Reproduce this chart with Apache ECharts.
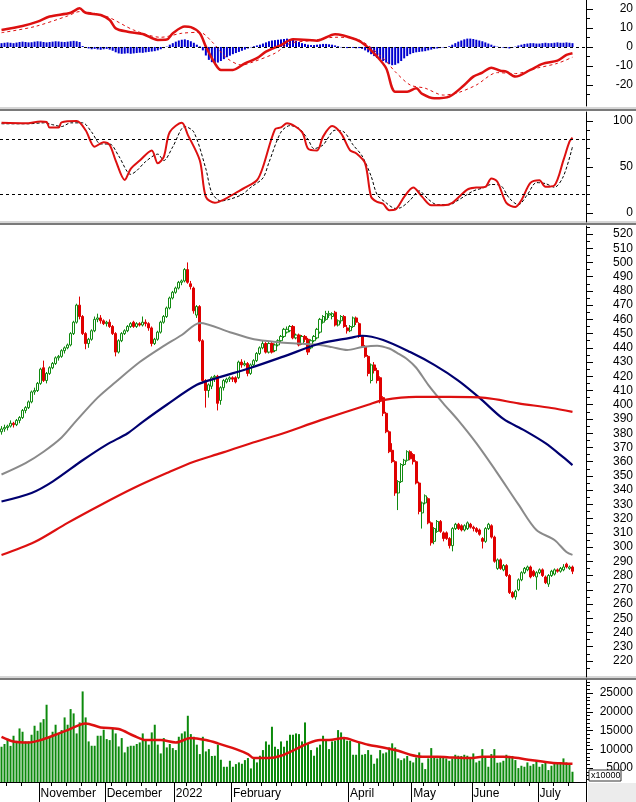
<!DOCTYPE html>
<html><head><meta charset="utf-8">
<script src="https://cdn.jsdelivr.net/npm/echarts@6/dist/echarts.min.js"></script>
<style>html,body{margin:0;padding:0;background:#fff}#c{width:636px;height:802px}</style>
</head><body><div id="c"></div>
<script>
// ---------- DATA ----------
const barCount = 195; // category slots (last few empty)
const monthStarts = [13, 35, 58, 77, 116, 137, 157, 179];
const monthNames = ['November', 'December', '2022', 'February', 'April', 'May', 'June', 'July'];
const weekTicks = [2,7,17,22,27,32,37,42,47,52,62,67,72,82,87,92,97,102,107,112,121,126,131,141,146,151,161,166,171,176,184,189];

// [open, close, low, high]
const candles = [
[381,383,379,385],[383,384,381,386],[384,385,382,386],[385,387,384,389],[387,386,384,388],
[386,389,385,390],[389,391,387,392],[391,396,390,397],[396,398,394,399],[398,402,397,403],
[402,409,401,410],[409,410,407,412],[410,415,409,416],[415,425,414,426],[426,417,416,431],
[417,422,415,423],[422,426,421,427],[426,429,425,430],[429,433,428,434],[433,434,431,435],
[434,438,433,439],[438,440,436,441],[440,442,439,443],[442,450,441,451],[450,458,449,459],
[458,470,457,471],[470,462,460,476],[462,450,449,463],[450,443,439,451],[443,446,440,447],
[446,452,445,453],[452,460,451,462],[460,461,458,464],[461,459,457,463],[459,457,456,460],
[457,458,455,459],[458,455,454,460],[455,450,449,456],[450,437,434,451],[437,445,436,446],
[445,450,444,451],[450,452,449,453],[452,455,451,456],[455,457,454,458],[458,455,454,459],
[455,457,454,458],[457,456,455,458],[456,458,455,462],[458,457,455,460],[457,454,452,458],
[454,443,441,455],[443,446,442,447],[446,451,445,452],[451,458,450,459],[458,462,457,463],
[462,468,461,469],[468,475,467,476],[475,479,474,480],[479,482,478,483],[482,486,481,487],
[486,487,484,488],[487,495,486,496],[495,486,485,500],
[485,483,481,487],[482,466,464,483],[463,469,461,470],[469,445,444,470],[445,417,415,446],
[417,410,398,418],[410,414,405,415],[413,419,411,420],[419,420,416,421],[420,401,396,421],
[403,412,400,413],[412,417,410,418],[416,418,415,419],[418,419,416,420],[419,418,416,420],
[419,416,415,420],[419,430,418,431],[430,428,426,432],[428,429,427,431],[429,422,420,430],
[422,428,421,429],[428,431,426,432],[431,436,430,437],[436,440,435,441],[440,443,439,445],
[443,437,436,444],[437,443,436,444],[443,437,436,444],[438,442,437,443],[442,445,441,446],
[445,448,444,449],[448,453,447,454],[451,453,450,455],[452,455,451,456],[455,447,446,456],
[447,449,446,450],[449,442,441,450],[443,448,442,449],[448,446,444,449],[446,437,435,447],
[440,445,439,446],[445,448,444,449],[447,453,446,454],[451,460,450,461],[458,462,457,463],
[460,464,459,466],[463,464,461,466],[462,464,460,465],[465,456,455,466],[456,459,455,460],
[459,462,457,463],[462,455,454,463],[454,452,450,456],[452,455,451,456],[455,461,454,462],
[461,458,456,462],[457,448,447,458],[448,441,440,449],[441,434,433,442],[434,422,420,435],
[417,428,415,429],[428,424,422,430],[424,417,415,426],[419,403,401,420],[405,394,392,406],
[394,381,380,395],[381,367,366,382],[368,360,359,373],[360,338,336,361],[338,346,326,347],
[346,358,345,359],[358,361,357,362],[361,367,360,368],[367,362,361,368],[365,360,358,366],
[360,345,344,361],[345,325,323,346],[324,331,313,332],[331,336,330,337],[334,317,316,335],
[317,303,301,318],[304,313,302,314],[311,318,310,319],[318,311,310,319],[310,306,304,311],
[310,306,305,311],[306,301,299,307],[301,313,297,314],[313,316,312,317],[316,313,312,317],
[315,312,311,316],[312,315,311,316],[313,317,312,318],[316,314,313,317],[314,313,311,315],
[313,311,310,314],[312,309,308,313],[306,304,299,307],[304,313,303,314],[313,316,312,317],
[315,307,306,316],[307,290,289,308],[285,291,284,292],[291,285,284,292],[284,287,283,288],
[287,280,279,288],[280,268,267,281],[268,265,264,269],[265,269,263,270],[270,277,269,278],
[277,282,276,283],[282,285,281,286],[284,286,283,287],[286,279,278,287],[283,280,279,284],
[279,282,270,283],[282,284,281,285],[284,280,279,285],[279,275,274,280],[274,280,272,281],
[280,283,279,284],[281,284,280,285],[284,283,282,285],[283,285,282,286],[284,286,283,288],
[288,286,285,289],[285,286,284,287],[286,283,281,287]
];

// moving averages: [barIndex, value]
const ma25 = [[0,351],[8,359],[14,367],[20,377],[25,389],[32,405],[38,416],[46,430],[53,440],[60,449],[66,457.5],[76,451],[84,446],[92,444],[99,443],[106,442],[110,440.5],[115,438.5],[120,440.5],[125,441.5],[129,439.5],[132,436],[135,432],[138,426],[142,414],[147,401],[152,389],[158,373],[165,352],[172,330],[178,312],[184,305],[188,296.5],[190,294.5]];
const ma75 = [[0,332],[10,338],[17,346],[27,361],[35,372],[42,380],[47,388],[55,400],[65,414],[72,419],[83,426],[94,434],[106,443],[116,447],[120,448.5],[127,445.5],[136,437],[144,428],[152,417],[159,405],[167,390],[174,382],[181,373],[187,363],[190,357.6]];
const ma200 = [[0,294.4],[11,303.5],[22,317],[33,329.6],[44,341.5],[55,352],[64,360],[73,366],[83,373],[92,378.7],[106,389],[122,400],[127,403.3],[138,405.5],[149,405.5],[161,404.8],[172,401],[183,397.7],[190,395]];

const volume = [
10670,11400,12800,10900,13600,12270,15550,14670,12090,12090,
13870,16270,14930,17150,18040,21870,13150,14670,16540,14220,
15110,18490,16540,20710,19560,14220,17150,25420,18490,12090,
10930,10930,13600,13600,15200,12710,12440,15640,14220,10750,
12980,9160,10670,10930,10930,11400,11820,14220,12440,11220,
14490,16540,11220,8890,12980,10490,11400,10310,9780,13330,
14220,14760,18930,14040,13330,11220,8710,13330,9420,10040,
8210,8270,11220,7200,5330,5330,6930,5330,6040,6490,
6130,7110,7650,4890,7830,6490,8270,9780,12090,11220,
16000,10670,10040,12090,10670,12270,13870,13870,14220,14040,
12090,17150,11580,9780,8270,10490,11220,
13600,12270,10040,12090,12270,15110,14490,12980,12270,12270,
8530,8530,11820,8530,8710,9780,8530,6130,7560,9780,
8890,9160,10490,11580,10490,7560,7110,7560,8210,6930,
6490,7830,9160,6400,4710,7560,10310,7830,7560,
8210,7830,7560,6930,7560,8530,8270,8210,8530,8270,
7650,8890,6490,6930,10040,7830,5330,8710,10040,6400,
6490,6930,8530,8210,8210,7110,4980,5600,5330,6490,
5600,6040,7110,5330,6040,6490,4450,5600,6400,6400,
6400,7560,6490,6040,4000
];
const volMA = [[0,13330],[4,12090],[9,11820],[13,12440],[18,13870],[22,15110],[28,16900],[33,15820],[39,15380],[44,13600],[48,12440],[53,12440],[58,11820],[63,12980],[68,12440],[72,11580],[78,10040],[82,8710],[84,7650],[89,7650],[93,8270],[98,10040],[102,11580],[106,12440],[109,12440],[114,12980],[118,12090],[122,11220],[127,10490],[132,9610],[136,8530],[140,8000],[145,8000],[149,7830],[156,7650],[160,8000],[167,8000],[172,7650],[176,7110],[183,6400],[187,6220],[190,6130]];

const macdLine = [[0,8.9],[7,11],[12,13.3],[16,16],[23,18],[26,20.3],[28,18],[33,16.8],[36,14.2],[38,9.8],[42,8],[47,6.8],[52,3.7],[55,3.9],[57,7.2],[61,10.7],[63,10.4],[66,7.2],[68,0.2],[71,-8.6],[73,-12.1],[77,-12.1],[81,-8.6],[85,-5.9],[88,-2.5],[93,1],[97,4],[102,3.7],[105,3.3],[111,6.7],[118,3.9],[121,1],[125,-5.1],[128,-11.2],[131,-23.5],[135,-23.5],[138,-21.7],[140,-24.7],[144,-27],[149,-26.1],[154,-20],[157,-15.6],[160,-13.5],[163,-10.9],[166,-12.5],[168,-13],[171,-15.6],[176,-12.1],[180,-8.9],[185,-7.2],[188,-4.2],[190,-3.3]];
const macdSignal = [[0,7.5],[11,10.7],[22,16.3],[26,18.6],[35,16],[44,8.9],[53,5.1],[60,7.2],[66,7.7],[70,2.8],[75,-5.9],[80,-9.5],[84,-7.7],[91,-3.3],[96,1.9],[103,3.3],[111,5.1],[119,3.7],[127,-5.9],[131,-13],[136,-20],[141,-21.7],[147,-25.3],[152,-24],[158,-20],[165,-13.5],[171,-14],[178,-11.2],[185,-8.6],[190,-5.4]];
const macdHist = [
2.0,2.2,2.4,2.2,2.0,2.3,2.6,2.8,2.6,2.4,2.5,2.8,3.0,2.9,2.6,2.4,2.6,2.8,3.0,2.9,2.7,2.6,2.8,3.0,3.2,3.0,2.6,
0.5,-0.3,-0.8,-1.2,-1.0,-1.3,-1.5,-1.2,-1.0,-1.4,
-2.0,-2.8,-3.4,-3.6,-3.5,-3.3,-3.6,-3.4,-3.2,-3.0,-3.1,-2.8,-2.6,-2.4,-2.2,-1.8,-1.2,-0.6,0.2,
1.2,2.0,2.8,3.4,3.8,4.0,3.6,3.0,2.2,1.2,0.3,
-1.8,-4.5,-6.8,-8.0,-8.4,-8.2,-7.4,-6.4,-5.4,-4.6,-3.8,-3.2,-2.6,-2.0,
-1.4,-0.8,-0.2,0.4,0.8,1.2,
1.8,2.4,3.0,3.4,3.6,3.8,4.0,4.2,4.4,4.2,3.8,3.2,2.6,2.0,
1.6,1.2,1.0,1.0,1.2,1.4,1.6,1.6,1.4,1.2,
0.8,0.4,-0.2,-0.5,-0.6,-0.4,-0.5,-0.7,-0.6,-1.0,
-1.8,-2.8,-3.8,-4.8,-5.8,-6.6,-7.4,-8.2,-9.0,-9.6,-9.4,-8.6,-7.4,-6.0,-4.8,
-3.8,-3.2,-2.8,-2.6,-2.4,-2.2,-1.8,-1.4,-1.0,-0.8,-0.6,
-0.3,0.0,0.4,
1.2,2.0,2.8,3.4,4.0,4.4,4.4,4.2,3.8,3.4,3.0,2.4,1.8,1.2,
0.6,0.2,-0.2,-0.4,-0.6,-0.8,-0.4,0.2,
0.8,1.2,1.6,1.8,2.0,2.0,1.8,1.8,2.0,2.2,2.0,2.0,2.2,2.4,2.2,2.2,2.4,2.2,2.0
];

const stochK = [[0,98],[8,97.5],[13,99.5],[15,99],[16,93],[19,93],[20,98.5],[25,100],[28,90],[31,72],[34,77],[36,74],[38,57],[41,36],[43,48],[46,57],[50,68],[52,54],[54,61],[56,88],[60,98],[62,85],[66,57],[68,17.5],[71,11],[74,14.5],[78,22],[81,27.6],[85,35.6],[87,50],[91,91],[93,93],[95,97.5],[100,88],[102,70],[105,68],[107,83],[110,94.5],[113,86.5],[116,68],[118,65],[121,54],[123,17.5],[125,12],[127,10],[129,3],[131,3.6],[134,17.5],[137,27.6],[140,17.5],[143,8.4],[147,8.4],[150,11],[155,25.5],[158,27.6],[161,28.4],[163,37.5],[165,34],[168,11],[171,6.5],[173,13.8],[176,32.7],[179,35.6],[181,28.4],[184,30],[187,57.5],[189,77.5],[190,82]];
const stochD = [[0,97],[9,97],[14,98],[17,96],[20,94],[23,98],[27,98],[30,88],[33,75],[36,75],[39,62],[43,42],[45,46],[48,56],[52,64],[54,57],[57,72],[61,94],[64,88],[68,48],[70,22],[73,13],[76,15],[80,20],[83,28],[87,38],[89,55],[93,88],[96,95],[99,92],[102,80],[104,70],[107,74],[111,90],[114,88],[117,74],[120,62],[123,40],[125,20],[128,11],[131,5],[133,6],[136,14],[139,24],[142,15],[145,9],[149,9],[152,14],[157,24],[160,27],[163,31],[166,30],[169,16],[172,9],[175,20],[178,33],[181,32],[184,28],[187,40],[190,72]];

const macdTicks = [-20, -10, 0, 10, 20];
const stochTicks = [0, 50, 100];
const stochLevels = [20, 80];
const priceTicks = [220,230,240,250,260,270,280,290,300,310,320,330,340,350,360,370,380,390,400,410,420,430,440,450,460,470,480,490,500,510,520];
const volTicks = [5000, 10000, 15000, 20000, 25000];

// ---------- CHART ----------
const categories = [];
for (let i = 0; i < barCount; i++) categories.push(String(i));
const monthSet = new Set(monthStarts);
const weekSet = new Set(weekTicks);

const FONT = '"Liberation Sans", Arial, sans-serif';
const RED = '#e00000', GREEN = '#108a10';
const axisLineBlack = { show: true, lineStyle: { color: '#000', width: 1 } };
const lblStyle = { color: '#000', fontSize: 12, fontFamily: FONT, align: 'right', margin: 47, formatter: (v) => String(v) };

function halfSteps(vals) { const r = []; for (let i = 0; i < vals.length - 1; i++) r.push((vals[i] + vals[i + 1]) / 2); return r; }

function yMain(grid, min, max, ticks) {
  return { type: 'value', gridIndex: grid, position: 'right', min, max, scale: true,
    axisLine: axisLineBlack,
    axisTick: { show: true, length: 7, customValues: ticks, lineStyle: { color: '#000' } },
    axisLabel: Object.assign({ customValues: ticks }, lblStyle),
    splitLine: { show: false } };
}
function yMinor(grid, min, max, ticks) {
  return { type: 'value', gridIndex: grid, position: 'right', min, max, scale: true,
    axisLine: { show: false },
    axisTick: { show: true, length: 4, customValues: ticks, lineStyle: { color: '#000' } },
    axisLabel: { show: false }, splitLine: { show: false } };
}
function xHidden(grid) {
  return { type: 'category', gridIndex: grid, data: categories, boundaryGap: true,
    axisLine: { show: false }, axisTick: { show: false }, axisLabel: { show: false }, splitLine: { show: false } };
}

const volMinorTicks = [];
for (let v = 2000; v <= 28000; v += 1000) if (v % 5000 !== 0) volMinorTicks.push(v);

const option = {
  animation: false,
  backgroundColor: '#fff',
  textStyle: { fontFamily: FONT },
  grid: [
    { left: 0, right: 50, top: 0, height: 106 },
    { left: 0, right: 50, top: 112, height: 110 },
    { left: 0, right: 50, top: 226, height: 451 },
    { left: 0, right: 50, top: 680, height: 102 }
  ],
  xAxis: [
    xHidden(0), xHidden(1), xHidden(2),
    { type: 'category', gridIndex: 3, data: categories, boundaryGap: true,
      axisLine: axisLineBlack,
      axisTick: { show: true, length: 4, interval: (i) => weekSet.has(i) || monthSet.has(i), lineStyle: { color: '#000' } },
      axisLabel: { show: false }, splitLine: { show: false } },
    { type: 'category', gridIndex: 3, data: categories, boundaryGap: true, position: 'bottom',
      axisLine: { show: false },
      axisTick: { show: true, length: 20, interval: (i) => monthSet.has(i), lineStyle: { color: '#000' } },
      axisLabel: { show: true, interval: (i) => monthSet.has(i), align: 'left', margin: 6,
        color: '#000', fontSize: 12, fontFamily: FONT,
        formatter: (v, i) => { const k = monthStarts.indexOf(Number(v)); return k >= 0 ? monthNames[k] : ''; } },
      splitLine: { show: false } }
  ],
  yAxis: [
    yMain(0, -31.05, 24.7, macdTicks),
    yMain(1, -9.8, 109.8, stochTicks),
    yMain(2, 208.7, 525.6, priceTicks),
    yMain(3, 1267, 28467, volTicks),
    yMinor(0, -31.05, 24.7, halfSteps(macdTicks).concat([-25])),
    yMinor(1, -9.8, 109.8, [10,20,30,40,60,70,80,90]),
    yMinor(2, 208.7, 525.6, halfSteps(priceTicks).concat([215,525])),
    yMinor(3, 1267, 28467, volMinorTicks)
  ],
  series: [
    { type: 'bar', name: 'hist', xAxisIndex: 0, yAxisIndex: 0, data: macdHist, barWidth: 2,
      itemStyle: { color: '#0000d0' },
      markLine: { silent: true, symbol: 'none', label: { show: false },
        lineStyle: { color: '#000', type: [3, 3], width: 1 }, data: [{ yAxis: 0 }] } },
    { type: 'line', name: 'macd', xAxisIndex: 0, yAxisIndex: 0, data: macdLine, showSymbol: false, symbol: 'none', smooth: 0.3,
      lineStyle: { color: '#dd1010', width: 2.5 } },
    { type: 'line', name: 'signal', xAxisIndex: 0, yAxisIndex: 0, data: macdSignal, showSymbol: false, symbol: 'none', smooth: 0.3,
      lineStyle: { color: '#dd1010', width: 1, type: [3, 3] } },
    { type: 'line', name: 'stochD', xAxisIndex: 1, yAxisIndex: 1, data: stochD, showSymbol: false, symbol: 'none', smooth: 0.3,
      lineStyle: { color: '#000', width: 1, type: [3, 2] },
      markLine: { silent: true, symbol: 'none', label: { show: false },
        lineStyle: { color: '#000', type: [3, 3], width: 1 }, data: stochLevels.map(v => ({ yAxis: v })) } },
    { type: 'line', name: 'stochK', xAxisIndex: 1, yAxisIndex: 1, data: stochK, showSymbol: false, symbol: 'none', smooth: 0.3,
      lineStyle: { color: '#dd1010', width: 2 } },
    { type: 'candlestick', name: 'price', xAxisIndex: 2, yAxisIndex: 2, data: candles, barWidth: 2.6,
      itemStyle: { color: '#ffffff', color0: RED, borderColor: GREEN, borderColor0: RED, borderWidth: 1 } },
    { type: 'line', name: 'ma25', xAxisIndex: 2, yAxisIndex: 2, data: ma25, showSymbol: false, symbol: 'none', smooth: 0.3,
      lineStyle: { color: '#8a8a8a', width: 2 } },
    { type: 'line', name: 'ma75', xAxisIndex: 2, yAxisIndex: 2, data: ma75, showSymbol: false, symbol: 'none', smooth: 0.3,
      lineStyle: { color: '#000070', width: 2.2 } },
    { type: 'line', name: 'ma200', xAxisIndex: 2, yAxisIndex: 2, data: ma200, showSymbol: false, symbol: 'none', smooth: 0.3,
      lineStyle: { color: '#dd1010', width: 2.2 } },
    { type: 'bar', name: 'vol', xAxisIndex: 3, yAxisIndex: 3, data: volume, barWidth: 2,
      itemStyle: { color: '#0c8a0c' } },
    { type: 'line', name: 'volMA', xAxisIndex: 3, yAxisIndex: 3, data: volMA, showSymbol: false, symbol: 'none', smooth: 0.3,
      lineStyle: { color: '#dd1010', width: 2.5 } }
  ],
  graphic: [
    { type: 'rect', shape: { x: 0, y: 107, width: 636, height: 2 }, style: { fill: '#d6d6d6' }, silent: true },
    { type: 'rect', shape: { x: 0, y: 109, width: 636, height: 2 }, style: { fill: '#7a7a7a' }, silent: true },
    { type: 'rect', shape: { x: 0, y: 221, width: 636, height: 2 }, style: { fill: '#d6d6d6' }, silent: true },
    { type: 'rect', shape: { x: 0, y: 223, width: 636, height: 2 }, style: { fill: '#7a7a7a' }, silent: true },
    { type: 'rect', shape: { x: 0, y: 676, width: 636, height: 2 }, style: { fill: '#d6d6d6' }, silent: true },
    { type: 'rect', shape: { x: 0, y: 678, width: 636, height: 2 }, style: { fill: '#7a7a7a' }, silent: true },
    { type: 'rect', shape: { x: 588, y: 783, width: 48, height: 19 }, style: { fill: '#ececec' }, silent: true },
    { type: 'rect', shape: { x: 589, y: 770, width: 32, height: 11 }, style: { fill: '#fff', stroke: '#333', lineWidth: 1 }, z: 100, silent: true },
    { type: 'text', x: 591, y: 771, style: { text: 'x10000', fill: '#000', font: '9px ' + FONT }, z: 101, silent: true }
  ]
};

const chart = echarts.init(document.getElementById('c'), null, { renderer: 'canvas' });
chart.setOption(option);
</script>
</body></html>
